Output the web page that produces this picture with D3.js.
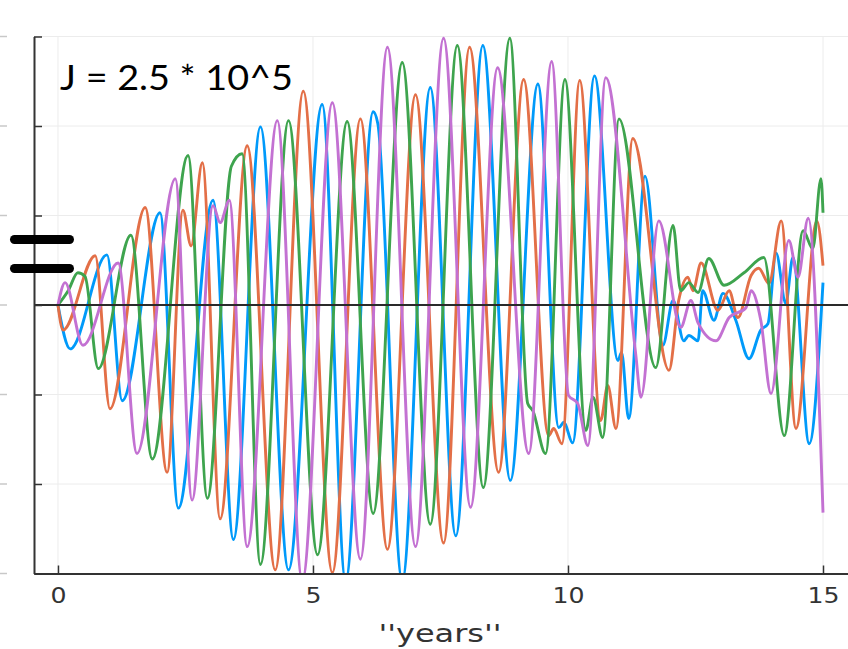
<!DOCTYPE html>
<html>
<head>
<meta charset="utf-8">
<script src="https://cdn.jsdelivr.net/npm/d3@7"></script>
<style>
  html, body { margin: 0; padding: 0; background: #fff; }
  svg { display: block; }
</style>
</head>
<body>
<div id="chart"></div>
<script>
// tick values
const x_ticks = [0, 5, 10, 15]
const y_ticks = [-3, -2, -1, 0, 1, 2, 3]

// series, [year, value] (peaks, troughs and wiggles)
const blue = [
  [0,0],[0.24,-0.49],[0.96,0.56],[1.26,-1.07],[2.00,1.03],[2.36,-2.27],[3.04,1.17],
  [3.44,-2.62],[3.97,1.99],[4.52,-2.96],[5.18,2.24],[5.64,-3.08],[6.18,2.16],[6.27,2.03],
  [6.75,-3.08],[7.30,2.43],[7.80,-2.58],[8.33,2.90],[8.87,-1.96],[9.41,2.47],[9.82,-1.37],
  [9.92,-1.31],[10.09,-1.54],[10.52,2.56],[10.98,-0.62],[11.05,-0.53],[11.19,-1.27],
  [11.51,1.44],[11.86,-0.45],[12.06,0.05],[12.27,-0.40],[12.37,-0.34],[12.55,-0.40],
  [12.64,0.16],[12.86,-0.17],[13.04,0.13],[13.29,-0.17],[13.55,-0.60],[13.78,-0.28],
  [13.92,-0.21],[14.08,0.58],[14.27,0.02],[14.41,0.53],[14.73,-1.55],[15.0,0.25]
]
const orange = [
  [0,0],[0.10,-0.28],[0.73,0.55],[1.02,-1.16],[1.71,1.09],[2.14,-1.87],[2.45,1.06],
  [2.61,0.66],[2.83,1.59],[3.18,-2.39],[3.71,1.78],[4.26,-2.96],[4.81,2.39],[5.38,-2.99],
  [5.93,2.08],[6.46,-2.73],[7.01,2.35],[7.56,-2.66],[8.07,2.88],[8.64,-1.87],[9.13,2.52],
  [9.62,-1.46],[9.72,-1.38],[9.88,-1.55],[10.23,2.51],[10.64,-1.29],[10.78,-0.90],
  [10.94,-1.38],[11.27,1.86],[11.98,-0.73],[12.17,0.05],[12.35,0.31],[12.45,0.16],
  [12.61,0.47],[12.94,-0.06],[13.16,0.16],[13.33,-0.14],[13.59,0.33],[13.74,0.41],
  [13.94,0.24],[14.18,0.94],[14.47,-1.38],[14.88,0.94],[15.0,0.44]
]
const green = [
  [0,0],[0.20,0.16],[0.39,0.36],[0.53,0.32],[0.79,-0.71],[1.43,0.78],[1.85,-1.72],
  [2.55,1.67],[2.93,-2.16],[3.40,1.55],[3.61,1.69],[3.97,-2.90],[4.52,2.06],[5.09,-2.79],
  [5.67,2.05],[6.18,-2.33],[6.75,2.71],[7.30,-2.45],[7.83,2.90],[8.34,-2.04],[8.86,2.98],
  [9.21,-1.10],[9.31,-1.18],[9.56,-1.66],[9.94,2.52],[10.35,-1.40],[10.49,-1.03],
  [10.68,-1.48],[11.00,2.08],[11.72,-0.70],[12.06,0.89],[12.21,0.16],[12.37,0.25],
  [12.55,0.14],[12.76,0.52],[13.06,0.22],[13.45,0.36],[13.84,0.53],[14.24,-1.46],
  [14.61,0.83],[14.80,0.63],[14.96,1.41],[15.0,1.03]
]
const purple = [
  [0,0],[0.14,0.25],[0.49,-0.45],[1.18,0.47],[1.55,-1.66],[2.30,1.41],[2.63,-2.18],
  [3.04,1.11],[3.18,0.92],[3.36,1.17],[3.71,-2.70],[4.30,2.06],[4.79,-3.08],[5.38,2.26],
  [5.93,-2.84],[6.46,2.88],[7.01,-2.70],[7.56,2.98],[8.09,-2.26],[8.62,2.65],[9.23,-1.66],
  [9.68,2.72],[10.01,-1.01],[10.19,-1.10],[10.39,-1.57],[10.74,2.54],[11.33,-0.56],
  [11.43,-1.03],[11.78,0.94],[12.21,-0.25],[12.41,0.05],[12.55,-0.20],[12.90,-0.40],
  [13.16,-0.14],[13.49,-0.03],[13.59,0.16],[13.78,-0.17],[13.98,-0.99],[14.33,0.72],
  [14.51,0.31],[14.71,0.97],[15.0,-2.32]
]

const series = [
  {name: 'y1', color: '#009afa', data: blue},
  {name: 'y2', color: '#e36f47', data: orange},
  {name: 'y3', color: '#3ea44e', data: green},
  {name: 'y4', color: '#c371d2', data: purple}
]

const svg_width = 848
const svg_height = 649
const plot_left = 34
const plot_right = 848
const plot_top = 36.5
const plot_bottom = 573.5

const svg = d3.select('#chart')
  .append('svg')
  .attr('width', svg_width)
  .attr('height', svg_height)

const xScale = d3.scaleLinear()
  .domain([-0.47, 15.49])
  .range([plot_left, plot_right])

const yScale = d3.scaleLinear()
  .domain([-3, 3])
  .range([plot_bottom, plot_top])

// grid
svg.append('g')
  .selectAll('line')
  .data(x_ticks)
  .join('line')
    .attr('x1', d => xScale(d)).attr('x2', d => xScale(d))
    .attr('y1', plot_top).attr('y2', plot_bottom)
    .attr('stroke', '#ececec').attr('stroke-width', 1)

svg.append('g')
  .selectAll('line')
  .data(y_ticks)
  .join('line')
    .attr('x1', plot_left).attr('x2', plot_right)
    .attr('y1', d => yScale(d)).attr('y2', d => yScale(d))
    .attr('stroke', '#ececec').attr('stroke-width', 1)

// bits of a cropped neighbour on the far left
svg.append('g')
  .selectAll('line')
  .data(y_ticks)
  .join('line')
    .attr('x1', 0).attr('x2', 7)
    .attr('y1', d => yScale(d)).attr('y2', d => yScale(d))
    .attr('stroke', '#c8c8c8').attr('stroke-width', 1.5)

// lines
svg.append('clipPath').attr('id', 'clip')
  .append('rect')
  .attr('x', plot_left).attr('y', plot_top - 2)
  .attr('width', plot_right - plot_left).attr('height', plot_bottom - plot_top + 3)

const line = d3.line()
  .x(d => xScale(d[0]))
  .y(d => yScale(d[1]))
  .curve(d3.curveMonotoneX)

svg.append('g')
  .attr('clip-path', 'url(#clip)')
  .selectAll('path')
  .data(series)
  .join('path')
    .attr('d', d => line(d.data))
    .attr('fill', 'none')
    .attr('stroke', d => d.color)
    .attr('stroke-width', 2.9)
    .attr('stroke-linejoin', 'round')

// zero line
svg.append('line')
  .attr('x1', plot_left).attr('x2', plot_right)
  .attr('y1', yScale(0)).attr('y2', yScale(0))
  .attr('stroke', '#2a2a2a').attr('stroke-width', 2.2)

// axes
const xAxis = d3.axisBottom(xScale)
  .tickValues(x_ticks)
  .tickSizeInner(-8)
  .tickSizeOuter(0)
  .tickPadding(15)

const gx = svg.append('g')
  .attr('transform', `translate(0,${plot_bottom})`)
  .call(xAxis)
gx.select('.domain').attr('stroke', '#333').attr('stroke-width', 2)
gx.selectAll('.tick line').attr('stroke', '#333').attr('stroke-width', 1.5)
gx.selectAll('.tick text')
  .attr('font-family', 'DejaVu Sans')
  .attr('font-size', '21px')
  .attr('fill', '#333')
  .attr('transform', 'scale(1.2,1)')

const yAxis = d3.axisLeft(yScale)
  .tickValues(y_ticks)
  .tickSizeInner(-8)
  .tickSizeOuter(0)
  .tickFormat('')

const gy = svg.append('g')
  .attr('transform', `translate(${plot_left},0)`)
  .call(yAxis)
gy.select('.domain').attr('stroke', '#333').attr('stroke-width', 2)
gy.selectAll('.tick line').attr('stroke', '#333').attr('stroke-width', 1.5)

// x label
svg.append('text')
  .attr('transform', `translate(440,642) scale(1.28,1)`)
  .attr('text-anchor', 'middle')
  .attr('font-family', 'DejaVu Sans')
  .attr('font-size', '25px')
  .attr('fill', '#333')
  .text('\'\'years\'\'')

// annotation
svg.append('text')
  .attr('x', 60).attr('y', 90)
  .attr('font-family', 'Lato')
  .attr('font-size', '35px')
  .attr('fill', '#000')
  .attr('textLength', 233)
  .attr('lengthAdjust', 'spacingAndGlyphs')
  .text('J = 2.5 * 10^5')

// the two black bars on the left
svg.append('g')
  .selectAll('rect')
  .data([239.5, 268.5])
  .join('rect')
    .attr('x', 10).attr('y', d => d - 4.5)
    .attr('width', 64).attr('height', 9)
    .attr('rx', 4.5)
    .attr('fill', '#000')
</script>
</body>
</html>
